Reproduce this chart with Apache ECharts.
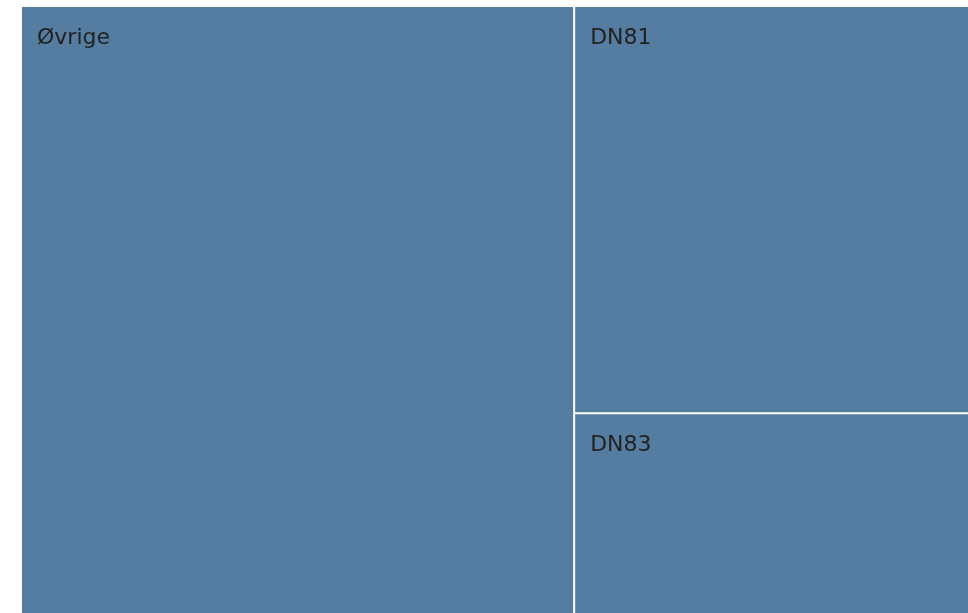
<!DOCTYPE html>
<html>
<head>
<meta charset="utf-8">
<script src="https://cdn.jsdelivr.net/npm/echarts@6/dist/echarts.min.js"></script>
<style>
  html, body { margin: 0; padding: 0; background: #fff; }
  #chart { width: 968px; height: 613px; }
</style>
</head>
<body>
<div id="chart"></div>
<script>
// kategorier og andeler
const names = ['Øvrige', 'DN81', 'DN83']
const values = [58.35, 27.9, 13.75]

const chart = echarts.init(document.getElementById('chart'))
chart.setOption({
  animation: false,
  color: ['#557ca1'],
  series: [{
    type: 'treemap',
    left: 22,
    top: 7,
    right: 0,
    bottom: 0,
    roam: false,
    nodeClick: false,
    breadcrumb: { show: false },
    squareRatio: 0.5 * (1 + Math.sqrt(5)),
    levels: [{
      color: ['#557ca1'],
      itemStyle: { borderWidth: 0, gapWidth: 2, borderColor: '#fff' }
    }],
    label: {
      show: true,
      position: [10, 15],
      color: '#222',
      fontFamily: 'DejaVu Sans',
      fontSize: 22
    },
    data: names.map((n, i) => ({
      name: n,
      value: values[i],
      itemStyle: { color: '#557ca1' }
    }))
  }]
})
</script>
</body>
</html>
